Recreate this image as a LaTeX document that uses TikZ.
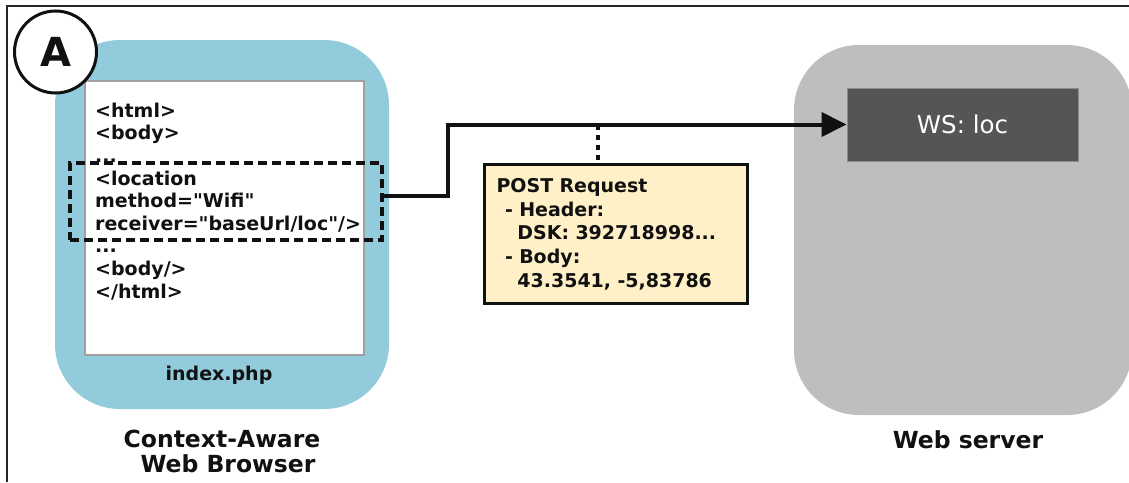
\documentclass[tikz,border=0pt]{standalone}
\usepackage{fontspec}
\setmainfont{DejaVu Sans}
\newfontfamily\plainfont{DejaVu Sans}
\usetikzlibrary{arrows.meta}
\definecolor{browserblue}{HTML}{92CBDB}
\definecolor{servergray}{HTML}{BEBEBE}
\definecolor{wsdark}{HTML}{555555}
\definecolor{postfill}{HTML}{FFF0C8}
\definecolor{pageborder}{HTML}{A0A0A0}
\definecolor{inkc}{HTML}{111111}
\begin{document}
\begin{tikzpicture}[x=1pt,y=-1pt,
  container/.style={rectangle, rounded corners=65pt, draw=none, inner sep=0pt},
  codetext/.style={font=\plainfont\fontsize{19}{22.6}\selectfont\bfseries, text=inkc, inner sep=0pt, anchor=north west, align=left},
  biglabel/.style={font=\fontsize{23.5}{25}\selectfont\bfseries, text=inkc, inner sep=0pt, anchor=base},
  connector/.style={line width=4pt, draw=inkc}
]
\useasboundingbox (0,0) rectangle (1129,482);
% frame
\coordinate (fbl) at (7,482);
\coordinate (ftl) at (7,6);
\coordinate (ftr) at (1129,6);
\draw[line width=1.5pt, black!85] (fbl) -- (ftl) -- (ftr);

% browser
\node[container, fill=browserblue, minimum width=334pt, minimum height=369pt] (browser) at (222,224.5) {};
\node[draw=pageborder, line width=1.5pt, fill=white, minimum width=279pt, minimum height=274pt, inner sep=0pt] (page) at (224.5,218) {};
\node[codetext] (code) at (95,102.6) {<html>\\<body>\\...\\<location\\method="Wifi"\\receiver="baseUrl/loc"/>\\...\\<body/>\\</html>};
\node[draw=inkc, line width=3.5pt, dash pattern=on 9pt off 5pt, minimum width=312pt, minimum height=77pt, inner sep=0pt] (sel) at (226,201.5) {};
\node[font=\fontsize{19}{22}\selectfont\bfseries, text=inkc, inner sep=0pt, anchor=base] (idx) at (219,380) {index.php};
\node[circle, draw=inkc, line width=3pt, fill=white, minimum size=82pt, inner sep=0pt, font=\fontsize{40}{40}\selectfont\bfseries, text=inkc] (A) at (55.5,52) {A};
\node[biglabel] (bl1) at (222,447) {Context-Aware};
\node[biglabel] (bl2) at (228,472) {Web Browser};

% server
\node[container, fill=servergray, minimum width=338pt, minimum height=370pt] (server) at (963,230) {};
\node[fill=wsdark, draw=black!45, line width=1pt, minimum width=231pt, minimum height=73pt, inner sep=0pt, text=white, font=\fontsize{24.5}{25}\selectfont] (ws) at (962.5,124.5) {WS: loc};
\node[biglabel] (sl) at (968,448) {Web server};

% connector
\coordinate (start) at ([yshift=5.5pt]sel.east);
\coordinate (bendx) at (448,0);
\draw[connector, -{Triangle[length=25pt,width=24pt]}] (start) -- (start -| bendx) |- (ws.west);

% post request
\coordinate (dtop) at (598,125);
\node[draw=inkc, line width=3pt, fill=postfill, minimum width=263pt, minimum height=139pt, text width=239pt, inner xsep=12pt, inner ysep=0pt, align=left, font=\fontsize{19}{23.7}\selectfont\bfseries, text=inkc, anchor=north west] (post) at (483,163) {POST Request\\\hspace*{0.45em}- Header:\\\hspace*{1.1em}DSK: 392718998...\\\hspace*{0.45em}- Body:\\\hspace*{1.1em}43.3541, -5,83786};
\draw[line width=4pt, draw=inkc, dash pattern=on 5pt off 5pt] (dtop) -- (dtop |- post.north);
\end{tikzpicture}
\end{document}
